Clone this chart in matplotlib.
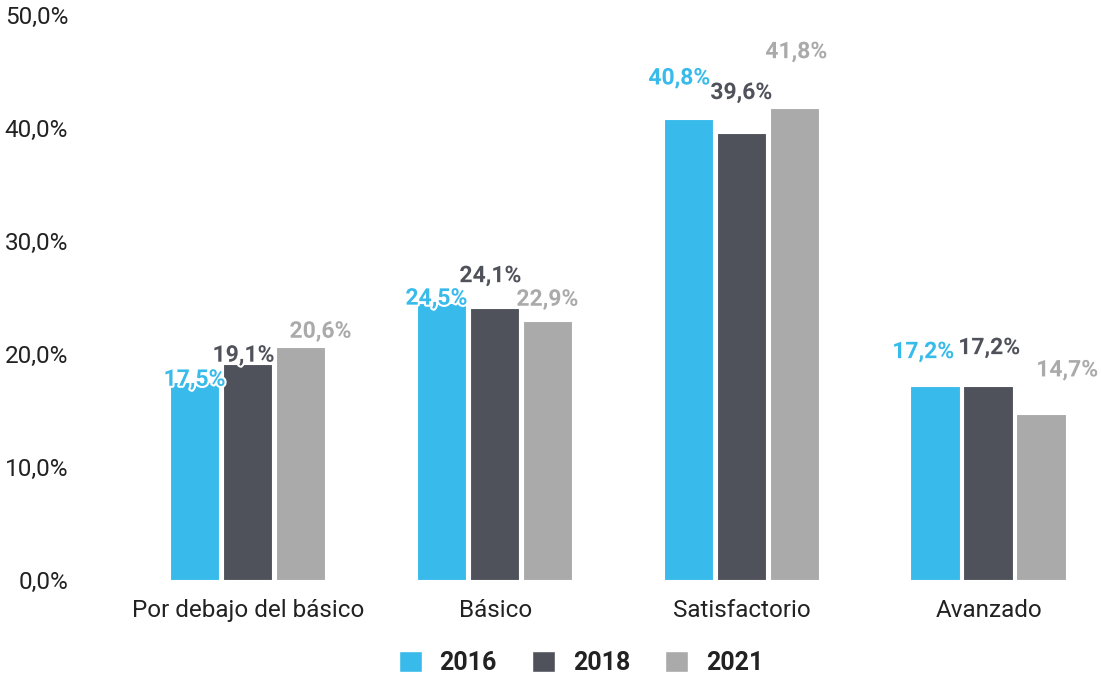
import numpy as np
import matplotlib
matplotlib.use("Agg")
import matplotlib.pyplot as plt
import matplotlib.patheffects as pe
from matplotlib.patches import Patch

#---- Donnees
categorias = ["Por debajo del básico", "Básico", "Satisfactorio", "Avanzado"]
anios = ["2016", "2018", "2021"]
v2016 = [17.5, 24.5, 40.8, 17.2]
v2018 = [19.1, 24.1, 39.6, 17.2]
v2021 = [20.6, 22.9, 41.8, 14.7]
yticks = [0, 10, 20, 30, 40, 50]

colores = ["#38BBEB", "#50525B", "#AAAAAA"]

#---- decalage des etiquettes (px) pour eviter les chevauchements
dx = [[0, -4, 20], [-5, -4, 0], [-9, 0, 2], [-12, 1, 26]]
dy = [[3, 9, 16], [5, 32, 22], [41, 40, 56], [34, 38, 44]]

plt.rcParams['font.family'] = ['Roboto', 'DejaVu Sans']

fig = plt.figure(figsize=(11.01, 6.78), dpi=100)
ax = fig.add_axes([125/1101, 98/678, 976/1101, 565/678])

x = np.arange(len(categorias))
w = 0.2
paso = 0.2146
series = [v2016, v2018, v2021]

for k, vals in enumerate(series):
    pos = x + (k-1)*paso - 0.004
    ax.bar(pos, vals, width=w, color=colores[k], edgecolor='white',
           linewidth=0.8, label=anios[k])
    for i, v in enumerate(vals):
        t = ax.annotate(f"{v:.1f}%".replace(".", ","), (pos[i], v),
                        xytext=(dx[i][k]*0.72, dy[i][k]*0.72),
                        textcoords='offset points', ha='center', va='center',
                        fontsize=16.5, fontweight='bold', color=colores[k])
        t.set_path_effects([pe.withStroke(linewidth=3, foreground='white')])

ax.set_xlim(-0.5, 3.453)
ax.set_ylim(0, 50)
ax.set_yticks(yticks)
ax.set_yticklabels([f"{t:.1f}%".replace(".", ",") for t in yticks],
                   fontsize=17.5, color='#222222')
ax.set_xticks(x)
ax.set_xticklabels(categorias, fontsize=17.5, color='#222222')
ax.tick_params(length=0)
ax.tick_params(axis='y', pad=41)
ax.tick_params(axis='x', pad=14)
for s in ax.spines.values():
    s.set_visible(False)

handles = [Patch(facecolor=c, edgecolor='white') for c in colores]
leg = fig.legend(handles, anios, loc='center', bbox_to_anchor=(581/1101, 1-663/678),
                 ncol=3, frameon=False, handlelength=0.92, handleheight=0.92,
                 columnspacing=1.4, handletextpad=0.72,
                 prop={'size': 18, 'weight': 'bold'})
for t in leg.get_texts():
    t.set_color('#222222')

fig.savefig("out.png", dpi=100)
